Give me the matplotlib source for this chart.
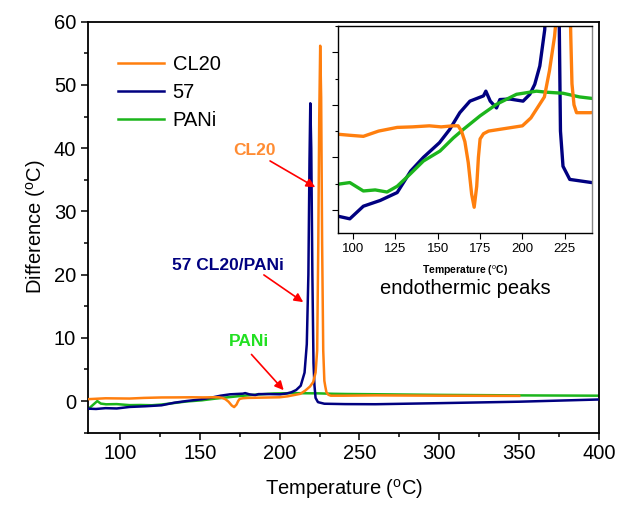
import matplotlib
matplotlib.use("Agg")
import matplotlib.pyplot as plt
from matplotlib.ticker import MultipleLocator

plt.rcParams["font.family"] = ["Liberation Sans", "DejaVu Sans"]
plt.rcParams["mathtext.fontset"] = "custom"
plt.rcParams["mathtext.rm"] = "Liberation Sans"

# CL20 trace (orange)
cl20_t = [80, 91, 98, 106, 115, 126, 135, 145, 152, 159, 162, 164, 166, 168,
          170, 171.5, 173, 174, 175, 177, 180, 190, 200, 205, 210, 213, 216,
          219, 221, 222.5, 223.5, 224.2, 224.8, 225.4, 226, 226.6, 227.3, 228,
          228.6, 229.3, 230.5, 232, 240, 260, 300, 350]
cl20_v = [0.3, 0.44, 0.42, 0.4, 0.5, 0.57, 0.58, 0.6, 0.58, 0.6, 0.6, 0.5,
          0.3, -0.1, -0.7, -0.95, -0.55, 0.0, 0.35, 0.45, 0.5, 0.55, 0.6, 0.75,
          1.0, 1.15, 1.65, 2.3, 3.0, 4.5, 8.0, 25, 45, 56.2, 48, 25, 8.0, 3.2,
          2.3, 1.4, 1.0, 0.85, 0.85, 0.9, 0.85, 0.82]

# 57 CL20/PANi trace (navy)
s57_t = [80, 85, 91, 98, 106, 116, 126, 134, 141.5, 151, 157, 163, 169, 177,
         178.4, 181, 184.7, 186.7, 192.6, 200.4, 204.4, 207.3, 210.3, 213.2,
         215.6, 217, 218, 218.7, 219.2, 219.8, 220.5, 221.2, 221.8, 222.5, 224,
         228, 241, 260, 300, 350, 400]
s57_v = [-1.2, -1.25, -1.12, -1.17, -0.93, -0.82, -0.67, -0.26, 0.0, 0.28,
         0.53, 0.85, 1.07, 1.17, 1.26, 1.07, 0.94, 1.1, 1.11, 1.07, 1.2, 1.39,
         1.74, 2.43, 4.5, 9.0, 20, 38, 47.1, 40, 20, 6.0, 2.5, 0.5, -0.17,
         -0.42, -0.48, -0.5, -0.33, -0.1, 0.25]

# PANi trace (green)
pani_t = [80, 85.8, 88, 91.3, 98, 106, 113, 120, 126, 133.6, 141.5, 151.3,
          159.2, 165, 175, 184.7, 196.5, 208.3, 214.2, 224, 233.8, 241.6, 260,
          300, 350, 400]
pani_v = [-1.3, 0.0, -0.4, -0.51, -0.48, -0.64, -0.62, -0.66, -0.55, -0.32,
          -0.07, 0.12, 0.37, 0.53, 0.79, 1.01, 1.2, 1.26, 1.24, 1.22, 1.15,
          1.12, 1.08, 0.98, 0.9, 0.85]

c_cl20 = "#ff7f0e"
c_57 = "#000080"
c_pani = "#1cb51c"

fig = plt.figure(figsize=(6.19, 5.05), dpi=100)
ax = fig.add_axes([0.1422, 0.1432, 0.8255, 0.8138])

ax.plot(cl20_t, cl20_v, color=c_cl20, lw=1.8, label="CL20", zorder=4)
ax.plot(s57_t, s57_v, color=c_57, lw=1.8, label="57", zorder=3)
ax.plot(pani_t, pani_v, color=c_pani, lw=1.8, label="PANi", zorder=2)

ax.set_xlim(80, 400)
ax.set_ylim(-5, 60)
ax.xaxis.set_major_locator(MultipleLocator(50))
ax.xaxis.set_minor_locator(MultipleLocator(25))
ax.yaxis.set_major_locator(MultipleLocator(10))
ax.yaxis.set_minor_locator(MultipleLocator(5))
ax.tick_params(which="both", direction="out", labelsize=14.5, width=1.1)
ax.tick_params(which="major", length=5)
ax.tick_params(which="minor", length=3)
for s in ax.spines.values():
    s.set_linewidth(1.3)
ax.set_xlabel(r"Temperature ($^{\rm o}$C)", fontsize=14.5, labelpad=10)
ax.set_ylabel(r"Difference ($^{\rm o}$C)", fontsize=14.5, labelpad=4)

ax.legend(loc="upper left", bbox_to_anchor=(0.059, 0.918), frameon=False,
          fontsize=14.5, handlelength=2.3, handletextpad=0.4,
          labelspacing=0.43, borderaxespad=0, borderpad=0)

arrow = dict(arrowstyle="-|>", color="red", lw=1.2, mutation_scale=13)
ax.text(184.4, 39.6, "CL20", color="#ff8c33", fontsize=12.5,
        fontweight="bold", ha="center", va="center")
ax.annotate("", xy=(223.8, 33.6), xytext=(192.5, 38.2), arrowprops=arrow)
ax.text(167.5, 21.5, "57 CL20/PANi", color=c_57, fontsize=12.5,
        fontweight="bold", ha="center", va="center")
ax.annotate("", xy=(216.2, 15.4), xytext=(188.7, 20.2), arrowprops=arrow)
ax.text(180.6, 9.4, "PANi", color="#22e022", fontsize=12.5,
        fontweight="bold", ha="center", va="center")
ax.annotate("", xy=(203.7, 1.4), xytext=(181.2, 7.7), arrowprops=arrow)

# inset: zoom on the low-temperature region
ins = fig.add_axes([0.546, 0.5386, 0.410, 0.4099])
ins.plot(s57_t, s57_v, color=c_57, lw=2.4)
ins.plot(pani_t, pani_v, color=c_pani, lw=2.4)
ins.plot(cl20_t, cl20_v, color=c_cl20, lw=2.4)
ins.set_xlim(91, 241)
ins.set_ylim(-1.44, 2.5)
ins.xaxis.set_major_locator(MultipleLocator(25))
ins.yaxis.set_major_locator(MultipleLocator(1))
ins.yaxis.set_minor_locator(MultipleLocator(0.5))
ins.set_yticklabels([])
ins.tick_params(which="both", direction="out", labelsize=9.5, width=0.8)
ins.tick_params(which="major", length=4)
ins.tick_params(which="minor", length=2)
for s in ins.spines.values():
    s.set_linewidth(1.0)
ins.spines["right"].set_color("#888888")
ins.set_xlabel(r"Temperature ($^{\rm o}$C)", fontsize=7.5, fontweight="bold",
               labelpad=6)
fig.text(0.752, 0.428, "endothermic peaks", fontsize=14.5, ha="center",
         va="center")

fig.savefig("out.png", dpi=100)
